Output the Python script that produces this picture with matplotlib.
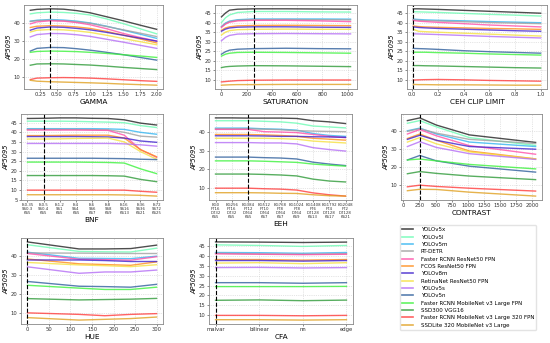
import numpy as np
import matplotlib
matplotlib.use("Agg")
import matplotlib.pyplot as plt
from matplotlib.lines import Line2D

# models and colours
models = ["YOLOv5x", "YOLOv5l", "YOLOv5m", "RT-DETR", "Faster RCNN ResNet50 FPN",
          "FCOS ResNet50 FPN", "YOLOv8m", "RetinaNet ResNet50 FPN", "YOLOv5s", "YOLOv5n",
          "Faster RCNN MobileNet v3 Large FPN", "SSD300 VGG16",
          "Faster RCNN MobileNet v3 Large 320 FPN", "SSDLite 320 MobileNet v3 Large"]
colors = ["#222222", "#6dfcb4", "#33b5f0", "#a0a0a0", "#ff4fa8", "#ff8c1a", "#3f22cc",
          "#f5e040", "#b56ef5", "#2f5f9c", "#3cf23c", "#2e9a38", "#ff3c3c", "#e0a020"]

# GAMMA
gamma_x = [0.1, 0.2, 0.4, 0.6, 0.8, 1.0, 1.25, 1.5, 1.75, 2.0]
gamma_y = [
    [47.0, 47.5, 47.8, 47.6, 46.8, 45.6, 43.4, 41.2, 38.8, 36.5],
    [45.0, 45.6, 46.0, 45.8, 45.3, 44.4, 42.2, 39.6, 36.8, 34.0],
    [41.0, 41.5, 41.9, 41.6, 41.0, 40.0, 38.2, 36.0, 33.8, 31.5],
    [40.8, 41.3, 41.5, 41.2, 40.6, 39.8, 38.0, 36.2, 34.4, 32.5],
    [39.5, 40.6, 41.2, 41.0, 40.2, 39.0, 36.8, 34.2, 32.0, 30.0],
    [37.5, 38.2, 38.5, 38.3, 37.8, 37.0, 35.3, 33.3, 31.2, 29.0],
    [36.0, 37.2, 37.8, 37.6, 37.0, 36.2, 34.8, 33.2, 31.6, 30.0],
    [35.0, 36.0, 36.4, 36.2, 35.6, 34.8, 33.2, 31.4, 29.7, 28.0],
    [32.3, 33.6, 34.2, 34.1, 33.5, 32.6, 31.0, 29.4, 27.7, 26.0],
    [24.5, 26.0, 26.5, 26.4, 25.8, 25.0, 23.8, 22.5, 21.0, 19.5],
    [23.8, 24.3, 24.5, 24.4, 24.2, 23.8, 23.2, 22.5, 21.8, 21.0],
    [16.7, 17.4, 17.5, 17.4, 17.1, 16.8, 16.2, 15.5, 14.9, 14.3],
    [8.8, 9.6, 9.8, 9.9, 9.8, 9.6, 9.2, 8.7, 8.2, 7.8],
    [8.4, 7.9, 7.6, 7.4, 7.2, 7.0, 6.7, 6.3, 6.0, 5.7],
]

# SATURATION
sat_x = [0, 32, 64, 128, 256, 512, 768, 1024]
sat_y = [
    [43.0, 45.0, 46.5, 47.0, 47.2, 47.2, 47.1, 47.0],
    [40.0, 42.5, 44.0, 45.3, 45.8, 45.8, 45.6, 45.5],
    [38.0, 39.8, 40.8, 41.5, 41.9, 41.9, 41.9, 41.8],
    [37.8, 39.5, 40.5, 41.2, 41.5, 41.6, 41.5, 41.4],
    [37.5, 39.2, 40.2, 40.9, 41.2, 41.2, 40.9, 40.5],
    [36.0, 37.2, 37.8, 38.3, 38.5, 38.6, 38.5, 38.4],
    [35.5, 36.6, 37.2, 37.6, 37.8, 37.8, 37.6, 37.5],
    [33.5, 35.0, 35.8, 36.3, 36.5, 36.6, 36.5, 36.5],
    [30.5, 32.3, 33.3, 34.0, 34.2, 34.3, 34.2, 34.1],
    [23.5, 24.8, 25.6, 26.1, 26.4, 26.6, 26.4, 26.3],
    [22.5, 23.5, 24.0, 24.4, 24.5, 24.4, 24.2, 24.0],
    [16.5, 16.9, 17.1, 17.3, 17.5, 17.4, 17.2, 17.0],
    [9.0, 9.2, 9.4, 9.7, 9.9, 10.0, 10.0, 10.0],
    [7.3, 7.4, 7.5, 7.6, 7.6, 7.7, 7.7, 7.7],
]

# CEH CLIP LIMIT
ceh_x = [0.01, 0.05, 0.1, 0.2, 0.4, 0.6, 0.8, 1.0]
ceh_y = [
    [47.3, 47.3, 47.2, 47.0, 46.5, 46.0, 45.5, 45.0],
    [45.8, 45.7, 45.6, 45.4, 44.9, 44.4, 44.0, 43.5],
    [41.9, 41.7, 41.5, 41.3, 41.0, 40.6, 40.3, 40.0],
    [41.5, 41.3, 41.1, 40.9, 40.5, 40.1, 39.8, 39.5],
    [41.2, 40.8, 40.6, 40.2, 39.5, 38.8, 38.3, 37.8],
    [38.3, 38.0, 37.8, 37.6, 37.3, 37.0, 36.8, 36.5],
    [37.8, 37.5, 37.3, 37.0, 36.6, 36.2, 35.8, 35.5],
    [36.5, 35.5, 35.3, 35.0, 34.5, 34.0, 33.5, 33.0],
    [34.2, 34.1, 34.0, 33.8, 33.3, 32.8, 32.4, 32.0],
    [26.5, 26.4, 26.3, 26.0, 25.3, 24.8, 24.4, 24.0],
    [24.5, 24.5, 24.5, 24.3, 24.0, 23.6, 23.3, 23.0],
    [17.5, 17.5, 17.4, 17.3, 17.0, 16.7, 16.4, 16.2],
    [9.9, 10.0, 10.1, 10.2, 10.0, 9.7, 9.5, 9.3],
    [7.6, 7.5, 7.5, 7.4, 7.4, 7.3, 7.2, 7.2],
]

# BNF
bnf_labels = ["IS0.35\nSS0.3\nKS5", "IS0.5\nSS0.4\nKS5", "IS1.2\nSS1\nKS5", "IS4\nSS4\nKS5",
              "IS6\nSS6\nKS7", "IS8\nSS8\nKS9", "IS16\nSS16\nKS13", "IS36\nSS36\nKS21",
              "IS72\nSS72\nKS25"]
bnf_y = [
    [47.2, 47.3, 47.5, 47.5, 47.3, 47.2, 46.5, 44.8, 43.8],
    [45.8, 45.8, 45.8, 45.7, 45.5, 45.3, 45.0, 43.5, 42.5],
    [41.9, 41.9, 41.9, 41.9, 41.9, 41.8, 41.5, 40.0, 39.0],
    [41.5, 41.5, 41.5, 41.5, 41.4, 41.3, 40.0, 38.0, 37.5],
    [41.2, 41.2, 41.2, 41.2, 41.1, 41.0, 38.5, 31.0, 27.0],
    [38.3, 38.3, 38.4, 38.5, 38.5, 38.5, 37.0, 31.0, 27.3],
    [37.8, 37.8, 37.8, 37.8, 37.7, 37.6, 37.0, 35.5, 34.8],
    [36.5, 36.5, 36.6, 36.8, 36.9, 37.0, 35.0, 30.0, 26.0],
    [34.2, 34.2, 34.2, 34.2, 34.2, 34.2, 34.0, 33.5, 32.8],
    [26.5, 26.5, 26.5, 26.5, 26.5, 26.4, 26.3, 26.0, 25.8],
    [24.5, 24.5, 24.5, 24.5, 24.4, 24.3, 24.0, 21.0, 18.5],
    [17.5, 17.5, 17.5, 17.5, 17.5, 17.4, 17.2, 15.5, 14.3],
    [9.9, 9.9, 9.9, 9.9, 9.9, 9.9, 9.9, 9.3, 8.8],
    [7.5, 7.5, 7.5, 7.5, 7.5, 7.5, 7.4, 7.2, 6.8],
]

# EEH
eeh_labels = ["EG0\nFT16\nDT32\nKS5", "EG256\nFT16\nDT32\nKS5", "EG384\nFT12\nDT64\nKS5",
              "EG512\nFT10\nDT64\nKS7", "EG768\nFT8\nDT64\nKS7", "EG1024\nFT8\nDT64\nKS9",
              "EG1408\nFT6\nDT128\nKS13", "EG1792\nFT4\nDT128\nKS17", "EG2048\nFT2\nDT128\nKS21"]
eeh_y = [
    [47.3, 47.3, 47.2, 47.2, 47.2, 47.0, 45.8, 45.2, 44.3],
    [45.8, 45.8, 45.8, 45.5, 45.2, 44.5, 43.0, 42.5, 42.0],
    [41.9, 41.9, 41.9, 41.5, 41.3, 40.8, 39.0, 38.0, 37.5],
    [41.5, 41.5, 41.5, 41.3, 41.0, 40.5, 40.3, 40.1, 40.0],
    [41.2, 41.2, 41.2, 40.0, 39.8, 39.5, 38.5, 37.5, 36.8],
    [38.5, 38.5, 38.5, 38.3, 38.0, 37.5, 36.5, 36.0, 35.5],
    [37.8, 37.8, 37.8, 37.7, 37.5, 37.5, 37.3, 37.2, 37.0],
    [36.5, 36.5, 36.5, 36.5, 36.3, 36.0, 35.0, 34.5, 34.0],
    [34.2, 34.2, 34.2, 34.0, 34.0, 33.5, 31.5, 30.5, 29.7],
    [26.5, 26.5, 26.5, 26.2, 26.0, 25.5, 23.8, 22.8, 22.0],
    [24.5, 24.5, 24.5, 24.3, 24.0, 23.7, 22.8, 22.2, 21.7],
    [17.5, 17.5, 17.5, 17.3, 17.0, 16.5, 14.8, 13.8, 13.3],
    [10.0, 10.0, 10.0, 9.7, 9.5, 9.0, 7.5, 6.5, 5.8],
    [7.6, 7.6, 7.6, 7.5, 7.3, 7.2, 6.5, 6.0, 5.8],
]

# CONTRAST
con_x = [64, 256, 512, 1024, 2048]
con_y = [
    [46.0, 47.5, 43.5, 38.0, 33.8],
    [44.5, 46.0, 42.5, 36.5, 32.1],
    [40.3, 41.8, 38.5, 34.0, 31.5],
    [40.0, 41.5, 39.0, 35.5, 33.2],
    [38.5, 41.0, 37.5, 32.0, 27.2],
    [36.0, 38.5, 35.0, 29.0, 24.6],
    [35.5, 37.8, 35.0, 31.5, 30.0],
    [34.0, 36.5, 33.0, 28.5, 24.5],
    [31.5, 34.2, 31.0, 27.5, 24.3],
    [24.0, 26.5, 23.5, 20.5, 17.2],
    [24.0, 24.5, 23.5, 21.5, 19.0],
    [16.3, 17.5, 16.5, 15.0, 13.0],
    [9.0, 9.9, 9.2, 8.2, 6.6],
    [6.8, 7.6, 7.5, 6.0, 3.8],
]

# HUE
hue_x = [0, 120, 180, 240, 300]
hue_y = [
    [47.3, 43.6, 43.6, 43.8, 45.6],
    [45.8, 42.3, 42.1, 42.0, 44.0],
    [41.9, 38.7, 38.6, 38.5, 39.8],
    [41.5, 41.4, 41.3, 41.2, 41.2],
    [41.2, 38.2, 38.0, 37.7, 39.5],
    [38.3, 35.8, 35.4, 35.0, 36.8],
    [37.8, 37.8, 37.5, 37.0, 37.0],
    [36.5, 35.2, 34.8, 34.3, 35.3],
    [34.2, 30.8, 31.5, 31.5, 32.5],
    [26.5, 24.0, 23.8, 23.5, 25.0],
    [24.5, 23.0, 22.3, 22.3, 23.5],
    [17.5, 16.8, 17.0, 17.2, 17.6],
    [10.0, 9.2, 8.5, 9.2, 9.6],
    [7.5, 6.2, 6.6, 7.0, 7.8],
]

# CFA
cfa_labels = ["malvar", "bilinear", "nn", "edge"]
cfa_y = [
    [47.3, 47.2, 47.0, 47.2],
    [45.8, 45.5, 45.0, 45.5],
    [41.9, 41.8, 41.5, 41.9],
    [41.5, 41.2, 41.0, 41.3],
    [41.2, 41.0, 40.8, 41.0],
    [38.3, 38.3, 38.0, 38.3],
    [37.8, 37.8, 37.5, 37.8],
    [36.5, 36.7, 36.2, 36.7],
    [34.2, 34.3, 34.0, 34.2],
    [26.5, 26.5, 26.2, 26.5],
    [24.5, 24.5, 24.5, 24.6],
    [17.5, 17.7, 17.3, 17.6],
    [9.8, 9.8, 9.6, 9.8],
    [7.6, 7.6, 7.4, 7.6],
]

W, H = 550, 343
fig = plt.figure(figsize=(W / 100, H / 100), dpi=100)


def add_ax(x0, x1, y0, y1):
    return fig.add_axes([x0 / W, 1 - y1 / H, (x1 - x0) / W, (y1 - y0) / H])


def style(ax, xlabel, yticks):
    ax.set_xlabel(xlabel, fontsize=5.3, labelpad=1)
    ax.set_ylabel("AP5095", fontsize=4.8, style="italic", labelpad=1)
    ax.set_yticks(yticks)
    ax.tick_params(labelsize=3.8, length=1.5, width=0.4, pad=1, colors="#333333")
    ax.grid(True, color="#cccccc", linestyle=":", linewidth=0.5)
    for s in ax.spines.values():
        s.set_color("#888888")
        s.set_linewidth(0.6)


def draw(ax, x, ys, dashed):
    for y, c in zip(ys, colors):
        ax.plot(x, y, color=c, lw=1.0, alpha=0.8)
    ax.axvline(dashed, color="black", ls="--", lw=0.8)


ax = add_ax(24, 163, 5, 89)
draw(ax, gamma_x, gamma_y, 0.4)
ax.set_xticks([0.25, 0.5, 0.75, 1.0, 1.25, 1.5, 1.75, 2.0])
style(ax, "GAMMA", [10, 20, 30, 40])

ax = add_ax(215, 357, 5, 89)
draw(ax, sat_x, sat_y, 256)
style(ax, "SATURATION", [10, 15, 20, 25, 30, 35, 40, 45])

ax = add_ax(407, 547, 5, 89)
draw(ax, ceh_x, ceh_y, 0.01)
style(ax, "CEH CLIP LIMIT", [10, 15, 20, 25, 30, 35, 40, 45])

ax = add_ax(21, 163, 114, 200)
draw(ax, np.arange(len(bnf_labels)), bnf_y, 1)
ax.set_xticks(np.arange(len(bnf_labels)))
ax.set_xticklabels(bnf_labels, linespacing=1.0)
style(ax, "BNF", [5, 10, 15, 20, 25, 30, 35, 40, 45])
ax.tick_params(axis="x", labelsize=2.8)

ax = add_ax(209, 352, 114, 200)
draw(ax, np.arange(len(eeh_labels)), eeh_y, 2)
ax.set_xticks(np.arange(len(eeh_labels)))
ax.set_xticklabels(eeh_labels, linespacing=1.0)
style(ax, "EEH", [10, 20, 30, 40])
ax.tick_params(axis="x", labelsize=2.8)

ax = add_ax(401, 542, 114, 200)
draw(ax, con_x, con_y, 256)
ax.set_xticks([0, 250, 500, 750, 1000, 1250, 1500, 1750, 2000])
style(ax, "CONTRAST", [10, 20, 30, 40])

ax = add_ax(21, 163, 238, 324)
draw(ax, hue_x, hue_y, 0)
ax.set_xticks([0, 50, 100, 150, 200, 250, 300])
style(ax, "HUE", [10, 20, 30, 40])

ax = add_ax(209, 353, 238, 324)
draw(ax, np.arange(len(cfa_labels)), cfa_y, 0)
ax.set_xticks(np.arange(len(cfa_labels)))
ax.set_xticklabels(cfa_labels)
style(ax, "CFA", [10, 15, 20, 25, 30, 35, 40, 45])

handles = [Line2D([], [], color=c, lw=1.2, alpha=0.8) for c in colors]
fig.legend(handles, models, loc="upper left", bbox_to_anchor=(400 / W, 1 - 225 / H),
           fontsize=4.0, frameon=True, handlelength=2.0, labelspacing=0.42,
           borderpad=0.4, handletextpad=1.3, borderaxespad=0, edgecolor="#dddddd")

fig.savefig("out.png", dpi=100)
